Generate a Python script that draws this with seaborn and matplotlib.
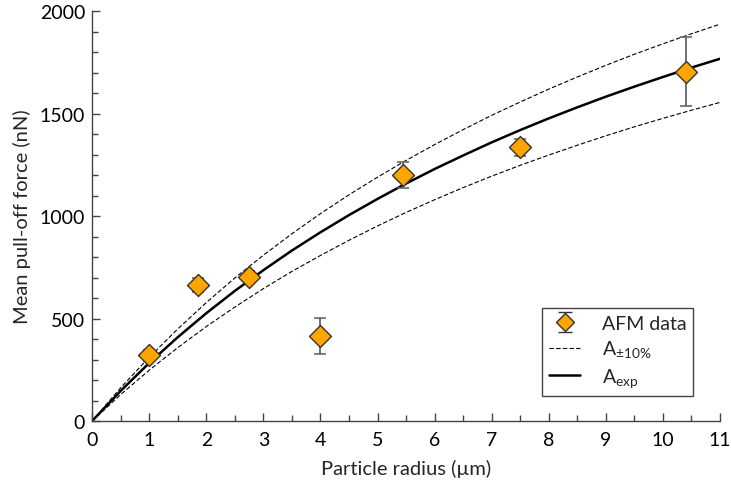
import numpy as np
import pandas as pd
import matplotlib
matplotlib.use("Agg")
import matplotlib.pyplot as plt
import seaborn as sns
from matplotlib.ticker import MultipleLocator
from matplotlib.lines import Line2D

# AFM data
radius = [1.0, 1.85, 2.75, 4.0, 5.45, 7.5, 10.4]
force = [320, 665, 705, 415, 1200, 1335, 1705]
force_err = [25, 35, 25, 90, 65, 40, 170]

# Model curves
curve_x = [0, 0.5, 1, 1.5, 2, 2.5, 3, 3.5, 4, 4.5, 5, 5.5, 6, 6.5, 7, 7.5,
           8, 8.5, 9, 9.5, 10, 10.5, 11]
a_exp = [0, 147, 283, 409, 526, 635, 736, 832, 921, 1005, 1084, 1159, 1230,
         1296, 1360, 1420, 1477, 1531, 1583, 1632, 1679, 1725, 1768]
a_up = [0, 162, 311, 449, 578, 698, 809, 914, 1012, 1104, 1190, 1272, 1349,
        1422, 1492, 1557, 1620, 1679, 1736, 1790, 1841, 1890, 1937]
a_low = [0, 129, 248, 358, 461, 556, 646, 730, 808, 882, 952, 1018, 1080,
         1139, 1195, 1248, 1298, 1346, 1392, 1436, 1477, 1517, 1555]

sns.set_style("ticks")
plt.rcParams["font.family"] = ["Lato", "DejaVu Sans"]
plt.rcParams["mathtext.fontset"] = "custom"
plt.rcParams["mathtext.rm"] = "Lato"
plt.rcParams["mathtext.it"] = "Lato"

fig = plt.figure(figsize=(7.31, 4.89), dpi=100)
ax = fig.add_axes([0.126, 0.137, 0.859, 0.838])

curves = pd.DataFrame({"x": curve_x, "exp": a_exp, "up": a_up, "low": a_low})
sns.lineplot(data=curves, x="x", y="up", ax=ax, color="black", lw=0.8,
             linestyle=(0, (4, 2)))
sns.lineplot(data=curves, x="x", y="low", ax=ax, color="black", lw=0.8,
             linestyle=(0, (4, 2)))
sns.lineplot(data=curves, x="x", y="exp", ax=ax, color="black", lw=1.8)

ax.errorbar(radius, force, yerr=force_err, fmt="none", ecolor="#666666",
            elinewidth=1.3, capsize=4.5, capthick=1.2, zorder=3)
pts = pd.DataFrame({"r": radius, "f": force})
sns.scatterplot(data=pts, x="r", y="f", ax=ax, marker="D", s=125,
                color="#FFA500", edgecolor="#333333", linewidth=1.0, zorder=4)

ax.set_xlim(0, 11)
ax.set_ylim(0, 2000)
ax.xaxis.set_major_locator(MultipleLocator(1))
ax.xaxis.set_minor_locator(MultipleLocator(0.5))
ax.yaxis.set_major_locator(MultipleLocator(500))
ax.yaxis.set_minor_locator(MultipleLocator(100))
ax.tick_params(which="both", direction="in", top=False, right=False,
               labelsize=14, color="#444444", labelcolor="black")
ax.tick_params(axis="x", which="major", length=6, width=1, pad=7)
ax.tick_params(axis="y", which="major", length=6, width=1, pad=5)
ax.tick_params(which="minor", length=4, width=1)
for s in ["top", "right"]:
    ax.spines[s].set_visible(False)
for s in ["left", "bottom"]:
    ax.spines[s].set_linewidth(1.0)
    ax.spines[s].set_color("#444444")

ax.set_xlabel("Particle radius (µm)", fontsize=14.5, labelpad=8)
ax.set_ylabel("Mean pull-off force (nN)", fontsize=14.5, labelpad=6)

h_afm = ax.errorbar([np.nan], [np.nan], yerr=[1], fmt="D", ms=9.5,
                    mfc="#FFA500", mec="#333333", ecolor="#333333",
                    capsize=5, elinewidth=1)
h_up = Line2D([], [], color="black", lw=0.8, linestyle=(0, (4, 2)))
h_exp = Line2D([], [], color="black", lw=1.8)
leg = ax.legend([h_afm, h_up, h_exp],
                ["AFM data", r"A$_{\mathrm{\pm10\%}}$", r"A$_{\mathrm{exp}}$"],
                loc="lower right", bbox_to_anchor=(0.957, 0.061),
                fontsize=14, frameon=True, fancybox=False, framealpha=1,
                edgecolor="#444444", handlelength=1.6, borderpad=0.35,
                labelspacing=0.35, handletextpad=1.1, borderaxespad=0)
leg.get_frame().set_linewidth(1.0)

fig.savefig("out.png", dpi=100)
